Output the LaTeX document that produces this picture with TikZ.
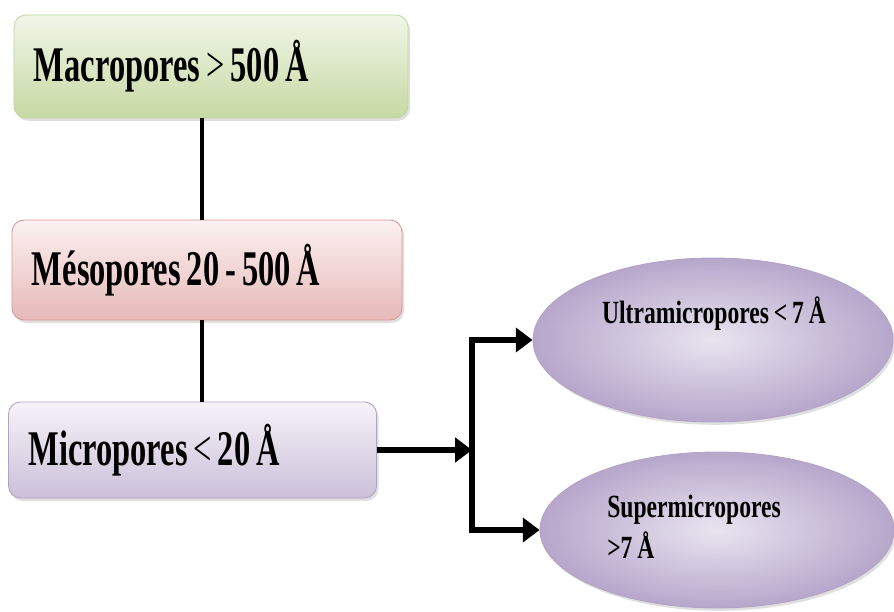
\documentclass[tikz,border=0pt]{standalone}
\usepackage{fontspec}
\setmainfont{Liberation Serif}
\newfontfamily\boxfont{Liberation Serif}[FakeStretch=0.65]
\newfontfamily\bubblefont{Liberation Serif}[FakeStretch=0.73]
\usepackage{xcolor}
\usepackage{tikz}
\usetikzlibrary{arrows.meta, positioning, shapes.geometric, shadows}

\DeclareRobustCommand{\tightspaces}[1]{\spaceskip=#1em\relax}

\definecolor{macrotop}{HTML}{F1F6E8}
\definecolor{macrobot}{HTML}{C6D9A3}
\definecolor{macroline}{HTML}{C3D69B}
\definecolor{mesotop}{HTML}{FCF1F1}
\definecolor{mesobot}{HTML}{E6B9B8}
\definecolor{mesoline}{HTML}{D99694}
\definecolor{microtop}{HTML}{F6F3F9}
\definecolor{microbot}{HTML}{CBC0D9}
\definecolor{microline}{HTML}{B3A2C7}
\definecolor{bubblein}{HTML}{E9E4F0}
\definecolor{bubbleout}{HTML}{B6A7CB}

\tikzset{
    porebox/.style={rectangle, rounded corners=0.3cm, line width=0.6pt,
        inner xsep=0.5cm, align=left,
        font=\boxfont\fontsize{35.5}{42}\selectfont\bfseries,
        execute at begin node={\tightspaces{0.12}},
        drop shadow={opacity=0.25, shadow xshift=0.05cm, shadow yshift=-0.07cm}},
    bubble/.style={ellipse, draw=microline, line width=0.6pt, shading=radial,
        inner color=bubblein, outer color=bubbleout,
        drop shadow={opacity=0.25, shadow xshift=0.05cm, shadow yshift=-0.07cm}},
    bubbletext/.style={align=left, inner sep=0pt,
        font=\bubblefont\fontsize{23}{29}\selectfont\bfseries,
        execute at begin node={\tightspaces{0.15}}},
    link/.style={line width=3.4pt},
    branch/.style={line width=4pt, -{Triangle[length=0.42cm, width=0.6cm]}}
}

\begin{document}
\begin{tikzpicture}
    \useasboundingbox (0,0) rectangle (22.35,-15.275);

    % Pore boxes
    \node[porebox, draw=macroline, top color=macrotop, bottom color=macrobot,
        minimum width=9.85cm, minimum height=2.575cm, text width=8.85cm]
        (macro) at (5.275,-1.6625) {Macropores {\mdseries >} 500 Å};
    \node[porebox, draw=mesoline, top color=mesotop, bottom color=mesobot,
        minimum width=9.75cm, minimum height=2.5cm, text width=8.75cm]
        (meso) at (5.175,-6.75) {Mésopores 20 - 500 Å};
    \node[porebox, draw=microline, top color=microtop, bottom color=microbot,
        minimum width=9.125cm, minimum height=2.4cm, text width=8.2cm]
        (micro) at (4.8125,-11.25) {Micropores {\mdseries <} 20 Å};

    % Links between boxes
    \coordinate (trunk) at (5.05,0);
    \draw[link] (macro.south -| trunk) -- (meso.north -| trunk);
    \draw[link] (meso.south -| trunk) -- (micro.north -| trunk);

    % Micropore classes
    \node[bubble, minimum width=9cm, minimum height=4.1cm] (ultra) at (17.825,-8.5) {};
    \node[bubbletext, anchor=base] (ultratext) at (17.85,-8.075) {Ultramicropores < 7 Å};
    \node[bubble, minimum width=8.85cm, minimum height=3.9cm] (super) at (17.925,-13.25) {};
    \node[bubbletext, anchor=west] (supertext) at (15.175,-13.175) {Supermicropores\\>7 Å};

    % Arrows
    \coordinate (split) at (11.8,-11.25);
    \draw[branch] (micro.east) -- (split);
    \draw[branch] (split) |- (ultra.west);
    \draw[branch] (split) |- (super.west);
\end{tikzpicture}
\end{document}
